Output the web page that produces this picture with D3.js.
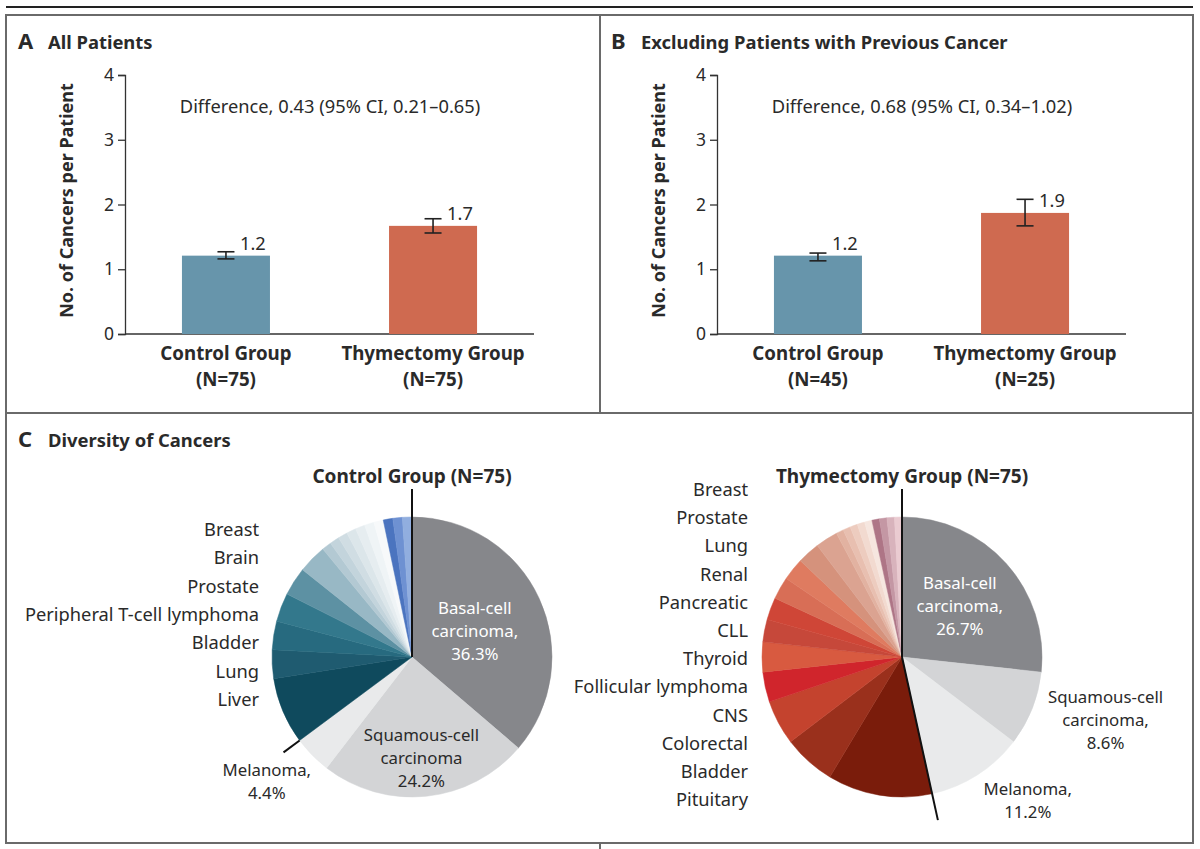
<!DOCTYPE html>
<html>
<head>
<meta charset="utf-8">
<script src="https://cdn.jsdelivr.net/npm/d3@7"></script>
<style>
  body { margin: 0; background: #fff; }
  text { font-family: "Noto Sans", "Open Sans", sans-serif; fill: #2a2a2a; }
</style>
</head>
<body>
<div id="wrapper"></div>
<script>
// bar panels
const barGroups = ["Control Group", "Thymectomy Group"]
const nAll = ["(N=75)", "(N=75)"]
const meanAll = [1.21, 1.67]
const loAll = [1.16, 1.56]
const hiAll = [1.27, 1.78]
const labelAll = ["1.2", "1.7"]
const nExcl = ["(N=45)", "(N=25)"]
const meanExcl = [1.21, 1.87]
const loExcl = [1.13, 1.67]
const hiExcl = [1.25, 2.08]
const labelExcl = ["1.2", "1.9"]
const yTicks = [0, 1, 2, 3, 4]

// pies, number of cancers per slice, clockwise from 12 o'clock
const controlNames = ["Basal-cell carcinoma", "Squamous-cell carcinoma", "Melanoma",
  "Liver", "Lung", "Bladder", "Peripheral T-cell lymphoma", "Prostate", "Brain", "Breast",
  "o1", "o2", "o3", "o4", "o5", "o6", "o7", "o8", "o9"]
const controlCounts = [33, 22, 4, 7, 3, 3, 3, 3, 3, 1, 1, 1, 1, 1, 1, 1, 1, 1, 1]
const controlColors = ["#86878b", "#d3d4d6", "#e9eaeb",
  "#0f4a5d", "#1f5b70", "#276a7f", "#33788c", "#5d91a3", "#98b8c5", "#b3c9d3",
  "#c3d4dc", "#d0dde3", "#dce6ea", "#e6edf0", "#eff4f6", "#f7f9fa",
  "#4b74bf", "#6e91d2", "#91aedf", "#b9c8e8"]
const controlLabels = ["Breast", "Brain", "Prostate", "Peripheral T-cell lymphoma", "Bladder", "Lung", "Liver"]

const thymNames = ["Basal-cell carcinoma", "Squamous-cell carcinoma", "Melanoma",
  "Pituitary", "Bladder", "Colorectal", "CNS", "Follicular lymphoma", "Thyroid", "CLL",
  "Pancreatic", "Renal", "Lung", "Prostate", "Breast",
  "o1", "o2", "o3", "o4", "o5", "o6", "o7", "o8", "o9"]
const thymCounts = [31, 10, 13, 14, 7, 6, 4, 4, 3, 3, 3, 3, 3, 3, 1, 1, 1, 1, 1, 1, 1, 1, 1]
const thymColors = ["#86878b", "#d3d4d6", "#e9eaeb",
  "#7a1c0b", "#9a301c", "#c4432e", "#d0252c", "#d85a40", "#c6483a", "#cf4637",
  "#d86e56", "#df7b60", "#d5927c", "#dba391",
  "#e2b2a1", "#e8bfb0", "#edccbf", "#f2dad0", "#f6e6df", "#ae7586", "#c497a4", "#d8b3bc", "#eacbd1"]
const thymLabels = ["Breast", "Prostate", "Lung", "Renal", "Pancreatic", "CLL", "Thyroid",
  "Follicular lymphoma", "CNS", "Colorectal", "Bladder", "Pituitary"]

const width = 1200
const height = 849
const fs = "18.3px"

const svg = d3.select("#wrapper")
  .append("svg")
    .attr("width", width)
    .attr("height", height)

// frame
const frameColor = "#6a6a6a"
svg.append("line").attr("x1", 6).attr("x2", 1193).attr("y1", 7).attr("y2", 7)
  .attr("stroke", "#222").attr("stroke-width", 2)
svg.append("rect").attr("x", 6).attr("y", 15).attr("width", 1187).attr("height", 828)
  .attr("fill", "none").attr("stroke", frameColor).attr("stroke-width", 2)
svg.append("line").attr("x1", 6).attr("x2", 1193).attr("y1", 413).attr("y2", 413)
  .attr("stroke", frameColor).attr("stroke-width", 2)
svg.append("line").attr("x1", 600).attr("x2", 600).attr("y1", 15).attr("y2", 413)
  .attr("stroke", frameColor).attr("stroke-width", 2)
svg.append("line").attr("x1", 600).attr("x2", 600).attr("y1", 843).attr("y2", 849)
  .attr("stroke", frameColor).attr("stroke-width", 2)

function panelTitle(x, y, letter, title) {
  svg.append("text").attr("x", x).attr("y", y)
    .style("font-size", "22px").style("font-weight", 700).text(letter)
  svg.append("text").attr("x", x + 30).attr("y", y)
    .style("font-size", "18.4px").style("font-weight", 700).text(title)
}
panelTitle(18, 49, "A", "All Patients")
panelTitle(611, 49, "B", "Excluding Patients with Previous Cancer")
panelTitle(18, 447, "C", "Diversity of Cancers")

// bar chart
function drawBars(opt) {
  const g = svg.append("g")
  const yScale = d3.scaleLinear().domain([0, 4]).range([334, 75])
  const xScale = d3.scaleBand().domain(barGroups)
    .range([opt.x0, opt.x0 + 409]).paddingInner(0.575).paddingOuter(0.275)

  const yAxis = g.append("g")
    .attr("transform", `translate(${opt.x0},0)`)
    .call(d3.axisLeft(yScale).tickValues(yTicks).tickFormat(d3.format("d"))
      .tickSize(7).tickPadding(4))
  yAxis.select(".domain").attr("stroke", "#333").attr("stroke-width", 1.3)
  yAxis.selectAll(".tick line").attr("stroke", "#333").attr("stroke-width", 1.3)
  yAxis.selectAll(".tick text").style("font-size", "17.5px").attr("fill", "#2a2a2a")
    .style("font-family", "'Noto Sans', sans-serif")

  g.append("line").attr("x1", opt.x0).attr("x2", opt.x0 + 409)
    .attr("y1", yScale(0)).attr("y2", yScale(0))
    .attr("stroke", "#333").attr("stroke-width", 1.5)

  g.append("text")
    .attr("transform", `translate(${opt.x0 - 52},${yScale(2) - 4}) rotate(-90)`)
    .attr("text-anchor", "middle")
    .style("font-size", "18px").style("font-weight", 700)
    .text("No. of Cancers per Patient")

  g.append("text").attr("x", opt.x0 + 205).attr("y", 113)
    .attr("text-anchor", "middle").style("font-size", fs)
    .text(opt.diff)

  const colors = ["#6795ab", "#cf6a50"]
  barGroups.forEach((name, i) => {
    const cx = xScale(name) + xScale.bandwidth() / 2
    g.append("rect")
      .attr("x", xScale(name))
      .attr("y", yScale(opt.mean[i]))
      .attr("width", xScale.bandwidth())
      .attr("height", yScale(0) - yScale(opt.mean[i]))
      .attr("fill", colors[i])
    const capW = 8.5
    g.append("line").attr("x1", cx).attr("x2", cx)
      .attr("y1", yScale(opt.lo[i])).attr("y2", yScale(opt.hi[i]))
      .attr("stroke", "#222").attr("stroke-width", 1.6)
    ;[opt.lo[i], opt.hi[i]].forEach(v => {
      g.append("line").attr("x1", cx - capW).attr("x2", cx + capW)
        .attr("y1", yScale(v)).attr("y2", yScale(v))
        .attr("stroke", "#222").attr("stroke-width", 1.6)
    })
    g.append("text").attr("x", cx + 14).attr("y", yScale(opt.mean[i]) - 6)
      .style("font-size", fs).text(opt.labels[i])
    g.append("text").attr("x", cx).attr("y", 360)
      .attr("text-anchor", "middle").style("font-size", "18.7px").style("font-weight", 700)
      .text(name)
    g.append("text").attr("x", cx).attr("y", 386)
      .attr("text-anchor", "middle").style("font-size", "18.7px").style("font-weight", 700)
      .text(opt.n[i])
  })
}

drawBars({ x0: 125, mean: meanAll, lo: loAll, hi: hiAll, labels: labelAll, n: nAll,
  diff: "Difference, 0.43 (95% CI, 0.21\u20130.65)" })
drawBars({ x0: 717, mean: meanExcl, lo: loExcl, hi: hiExcl, labels: labelExcl, n: nExcl,
  diff: "Difference, 0.68 (95% CI, 0.34\u20131.02)" })

// pies
const radius = 140
const pie = d3.pie().sort(null).value(d => d)
const arc = d3.arc().innerRadius(0).outerRadius(radius)

function polar(a, r) {
  return [r * Math.sin(a), -r * Math.cos(a)]
}

function drawPie(opt) {
  const g = svg.append("g").attr("transform", `translate(${opt.cx},${opt.cy})`)
  const arcs = pie(opt.counts)
  const total = d3.sum(opt.counts)

  g.selectAll("path")
      .data(arcs)
    .enter()
      .append("path")
        .attr("d", arc)
        .attr("fill", (d, i) => opt.colors[i])
        .attr("stroke", (d, i) => opt.colors[i])
        .attr("stroke-width", 0.5)

  // marker lines
  g.append("line").attr("x1", 0).attr("y1", 0).attr("x2", 0).attr("y2", -(opt.cy - 489))
    .attr("stroke", "#111").attr("stroke-width", 2)
  const melEnd = arcs[2].endAngle
  const p0 = polar(melEnd, opt.lineStart)
  const p1 = polar(melEnd, opt.lineEnd)
  g.append("line").attr("x1", p0[0]).attr("y1", p0[1]).attr("x2", p1[0]).attr("y2", p1[1])
    .attr("stroke", "#111").attr("stroke-width", 2)

  svg.append("text").attr("x", opt.cx).attr("y", 483)
    .attr("text-anchor", "middle").style("font-size", "19px").style("font-weight", 700)
    .text(opt.title)

  // named slices: text with percentages
  const main = [
    ["Basal-cell", "carcinoma,"],
    ["Squamous-cell", opt.squamousComma ? "carcinoma," : "carcinoma"],
    ["Melanoma,"]
  ]
  main.forEach((lines, i) => {
    const a = (arcs[i].startAngle + arcs[i].endAngle) / 2 + opt.labelShift[i]
    const p = polar(a, opt.labelR[i])
    const pct = d3.format(".1f")(opt.counts[i] / total * 100) + "%"
    const all = lines.concat([pct])
    const lh = 23
    all.forEach((s, j) => {
      g.append("text")
        .attr("x", p[0])
        .attr("y", p[1] + (j - (all.length - 1) / 2) * lh + 6)
        .attr("text-anchor", "middle")
        .style("font-size", "16.8px")
        .style("fill", i === 0 ? "#ffffff" : "#2a2a2a")
        .text(s)
    })
  })

  // list of small cancers
  opt.list.forEach((t, j) => {
    svg.append("text")
      .attr("x", opt.listX)
      .attr("y", opt.listY + j * opt.listStep)
      .attr("text-anchor", "end")
      .style("font-size", fs)
      .text(t)
  })
}

drawPie({
  cx: 412, cy: 657, counts: controlCounts, colors: controlColors,
  title: "Control Group (N=75)", lineStart: radius, lineEnd: 160,
  labelR: [68, 101, 191], labelShift: [0.04, 0.01, 0.07], squamousComma: false,
  list: controlLabels, listX: 259, listY: 536, listStep: 28.3
})
drawPie({
  cx: 902, cy: 657, counts: thymCounts, colors: thymColors,
  title: "Thymectomy Group (N=75)", lineStart: 0, lineEnd: 167,
  labelR: [77, 213, 191], labelShift: [0.01, -0.08, -0.15], squamousComma: true,
  list: thymLabels, listX: 748, listY: 496, listStep: 28.2
})
</script>
</body>
</html>
